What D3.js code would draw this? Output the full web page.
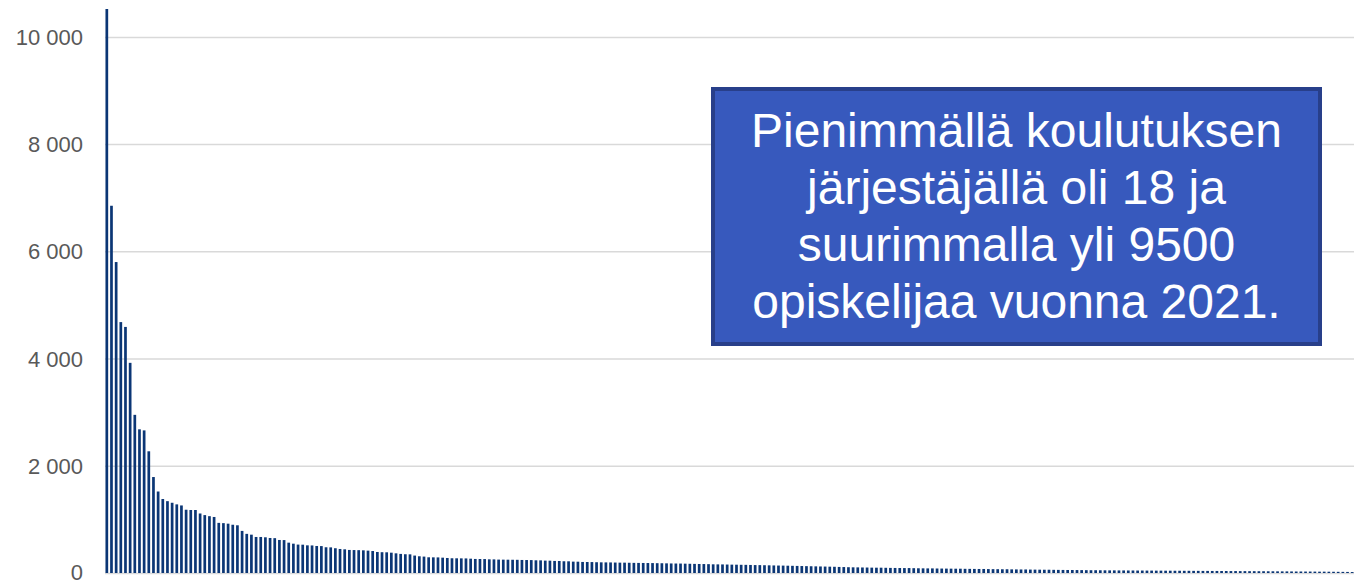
<!DOCTYPE html>
<html>
<head>
<meta charset="utf-8">
<script src="https://cdn.jsdelivr.net/npm/d3@7"></script>
<style>
  body { margin: 0; background: #fff; }
  svg { display: block; font-family: "Liberation Sans", Arial, sans-serif; }
</style>
</head>
<body>
<div id="chart"></div>
<script>
// Opiskelijamäärät koulutuksen järjestäjittäin 2021, suurimmasta pienimpään
const students = [
  10600, 6850, 5800, 4680, 4590, 3920, 2950, 2680, 2660, 2270,
  1790, 1520, 1380, 1340, 1310, 1280, 1260, 1180, 1175, 1175,
  1110, 1080, 1060, 1045, 935, 930, 920, 900, 890, 785,
  730, 715, 672, 672, 666, 653, 650, 616, 614, 566,
  547, 530, 528, 516, 514, 504, 502, 480, 478, 462,
  448, 442, 430, 428, 426, 423, 417, 410, 392, 388,
  386, 379, 367, 356, 350, 348, 325, 312, 306, 293,
  292, 291, 286, 280, 275, 274, 273, 272, 267, 262,
  261, 260, 255, 254, 250, 249, 248, 247, 246, 243,
  242, 241, 237, 236, 231, 230, 225, 224, 219, 218,
  212, 211, 206, 205,
  204, 201, 199, 198, 197, 195, 193, 193, 191, 189,
  188, 187, 186, 185, 183, 182, 180, 178, 177, 176,
  174, 172, 170, 168, 167, 165, 162, 161, 160, 158,
  156, 155, 153, 152, 150, 148, 147, 145, 143, 141,
  139, 138, 136, 134, 132, 130, 128, 126, 124, 122,
  120, 118, 116, 113, 111, 108,
  106, 105, 103, 102, 100, 99, 99, 97, 95, 94,
  93, 92, 92, 90, 88, 87, 86, 86, 84, 83,
  82, 81, 80, 80, 78, 77, 76, 75, 75, 73,
  72, 71, 70, 70, 68, 67, 66, 66, 64, 63,
  62, 61, 61, 59, 58, 57, 56, 56, 55, 54,
  53, 52, 52, 51, 50, 49,
  49, 48, 48, 47, 47, 46, 46, 45, 45, 44,
  44, 43, 43, 42, 42, 41, 41, 40, 40, 39,
  39, 38, 38, 37, 37, 36, 36, 35, 35, 34,
  34, 33, 33, 32, 32, 31, 30, 30, 29, 28,
  28, 27, 27, 26, 25, 25, 24, 23, 22, 21,
  20, 18
];
const yTicks = [0, 2000, 4000, 6000, 8000, 10000];
const yMax = 10520;
const captionLines = [
  'Pienimmällä koulutuksen',
  'järjestäjällä oli 18 ja',
  'suurimmalla yli 9500',
  'opiskelijaa vuonna 2021.'
];

const w = 1354;
const h = 582;
const margin = { top: 9, right: 0, bottom: 9, left: 105 };

const fi = d3.formatLocale({ decimal: ',', thousands: ' ', grouping: [3], currency: ['', ' €'] });
const fmt = fi.format(',');

const svg = d3.select('#chart')
  .append('svg')
  .attr('width', w)
  .attr('height', h);

const xScale = d3.scaleBand()
  .domain(d3.range(students.length))
  .range([margin.left, w - margin.right])
  .paddingInner(0.42)
  .paddingOuter(0.1);

const yScale = d3.scaleLinear()
  .domain([0, yMax])
  .range([h - margin.bottom, margin.top]);

// gridlines + labels
const yAxis = d3.axisLeft(yScale)
  .tickValues(yTicks)
  .tickSize(-(w - margin.left - margin.right))
  .tickFormat(fmt)
  .tickPadding(22);

const gy = svg.append('g')
  .attr('transform', `translate(${margin.left}, 0)`)
  .call(yAxis);
gy.select('.domain').remove();
gy.selectAll('.tick line')
  .attr('stroke', '#d9d9d9')
  .attr('stroke-width', 1.5);
gy.selectAll('.tick text')
  .attr('fill', '#595959')
  .attr('font-size', '22px')
  .attr('font-family', '"Liberation Sans", Arial, sans-serif')
  .attr('dy', d => (d === 0 ? '0.28em' : '0.34em'));

svg.append('clipPath')
  .attr('id', 'plot')
  .append('rect')
  .attr('x', margin.left)
  .attr('y', margin.top)
  .attr('width', w - margin.left)
  .attr('height', h - margin.top - margin.bottom);

svg.append('g')
  .attr('clip-path', 'url(#plot)')
  .selectAll('rect')
  .data(students)
  .enter()
  .append('rect')
  .attr('x', (d, i) => xScale(i))
  .attr('y', d => yScale(d))
  .attr('width', xScale.bandwidth())
  .attr('height', d => yScale(0) - yScale(d))
  .attr('fill', '#0b3675');

// text box
const box = { x: 713, y: 89, w: 607, h: 255 };
svg.append('rect')
  .attr('x', box.x)
  .attr('y', box.y)
  .attr('width', box.w)
  .attr('height', box.h)
  .attr('fill', '#3759bd')
  .attr('stroke', '#283f8a')
  .attr('stroke-width', 4);

svg.append('text')
  .attr('text-anchor', 'middle')
  .attr('fill', '#ffffff')
  .attr('font-size', '48px')
  .selectAll('tspan')
  .data(captionLines)
  .enter()
  .append('tspan')
  .attr('x', box.x + box.w / 2)
  .attr('y', (d, i) => 147 + i * 57)
  .text(d => d);
</script>
</body>
</html>
